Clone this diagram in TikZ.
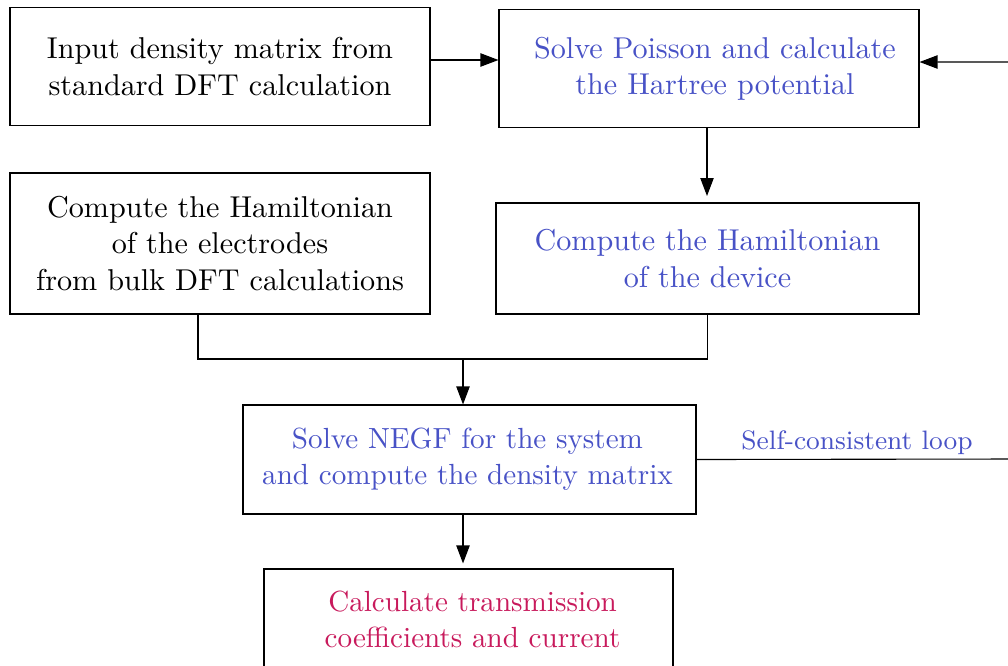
\documentclass[tikz,border=0pt]{standalone}
\usetikzlibrary{arrows.meta}
\definecolor{loopblue}{RGB}{72,82,198}
\definecolor{outred}{RGB}{200,26,92}
\newcommand\pxu{0.345pt}
\begin{document}
\begin{tikzpicture}[x=0.345pt,y=-0.345pt,
  box/.style={draw, line width=0.38pt, inner sep=0pt, align=center, font=\fontsize{10.4}{12.5}\selectfont},
  smallbox/.style={box, font=\fontsize{10.05}{12.4}\selectfont},
  arr/.style={line width=0.38pt, -{Triangle[length=6.2pt,width=4.6pt]}},
  ln/.style={line width=0.38pt}]
\useasboundingbox (0,0) rectangle (1008,665);
\node[box, minimum width=420*\pxu, minimum height=118*\pxu] (A) at (220,66.5) {Input density matrix from\\standard DFT calculation};
\node[box, text=loopblue, minimum width=420*\pxu, minimum height=118*\pxu] (B) at (709,68.5) {\hspace*{4.1pt}Solve Poisson and calculate\\\hspace*{4.1pt}the Hartree potential};
\node[box, minimum width=420*\pxu, minimum height=141*\pxu] (C) at (220,243.5) {Compute the Hamiltonian\\of the electrodes\\from bulk DFT calculations};
\node[box, text=loopblue, minimum width=423*\pxu, minimum height=111*\pxu] (D) at (707.5,258.5) {Compute the Hamiltonian\\of the device};
\node[smallbox, text=loopblue, minimum width=453*\pxu, minimum height=109*\pxu] (E) at (469.5,459.5) {\hspace*{-1.4pt}Solve NEGF for the system\\\hspace*{-1.4pt}and compute the density matrix};
\node[smallbox, text=outred, minimum width=409*\pxu, minimum height=100*\pxu] (F) at (468.5,619) {\hspace*{2.8pt}Calculate transmission\\\hspace*{2.8pt}coefficients and current};
\coordinate (ab) at (430,60);
\coordinate (cl) at (198,359);
\coordinate (m) at (463,359);
\coordinate (loopR) at (1016,459);
\coordinate (loopT) at (1016,62);
\draw[arr] (A.east |- ab) -- (B.west |- ab);
\draw[arr, shorten >=7*\pxu] (707,127) -- (707,203);
\draw[ln] (cl |- C.south) -- (cl) -| (D.south);
\draw[arr] (m) -- (m |- E.north);
\draw[arr, shorten >=5*\pxu] (m |- E.south) -- (m |- F.north);
\draw[arr] (E.east) -- (loopR) |- (B.east |- loopT);
\node[text=loopblue, font=\fontsize{9.2}{11}\selectfont, anchor=base] (lbl) at (857,449) {Self-consistent loop};
\end{tikzpicture}
\end{document}
